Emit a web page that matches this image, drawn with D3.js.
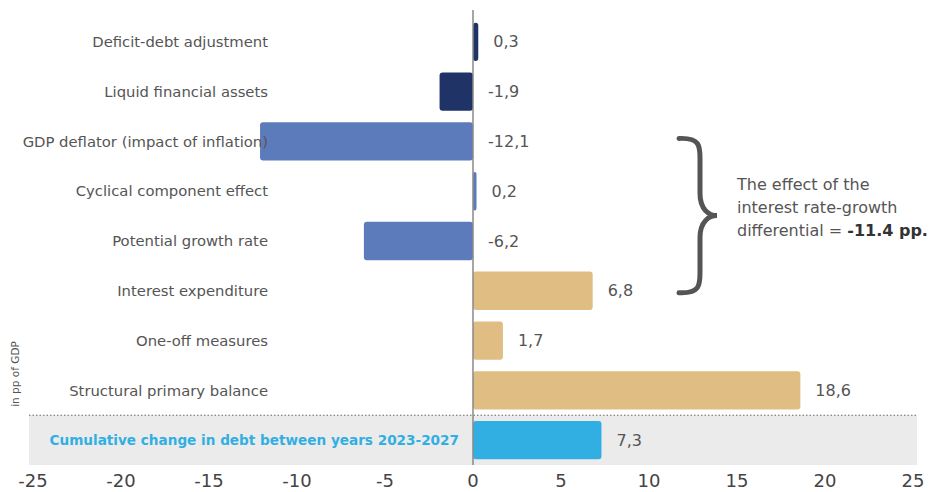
<!DOCTYPE html>
<html>
<head>
<meta charset="utf-8">
<script src="https://cdn.jsdelivr.net/npm/d3@7"></script>
<style>
  body { margin: 0; background: #fff; }
  svg { display: block; font-family: "DejaVu Sans", "Inter", sans-serif; }
</style>
</head>
<body>
<svg></svg>
<script>
// chart data
var categories = [
  "Deficit-debt adjustment",
  "Liquid financial assets",
  "GDP deflator (impact of inflation)",
  "Cyclical component effect",
  "Potential growth rate",
  "Interest expenditure",
  "One-off measures",
  "Structural primary balance",
  "Cumulative change in debt between years 2023-2027"
];
var values = [0.3, -1.9, -12.1, 0.2, -6.2, 6.8, 1.7, 18.6, 7.3];
var groups = ["sfa", "sfa", "growth", "growth", "growth", "fiscal", "fiscal", "fiscal", "total"];
var xTicks = [-25, -20, -15, -10, -5, 0, 5, 10, 15, 20, 25];
var noteLines = ["The effect of the", "interest rate-growth", "differential = "];
var noteBold = "-11.4 pp.";
var axisTitle = "in pp of GDP";

var svgWidth = 932, svgHeight = 492;
var svg = d3.select("svg")
  .attr("width", svgWidth)
  .attr("height", svgHeight);

var x = d3.scaleLinear().domain([-25, 25]).range([33, 913]);
var y = d3.scaleBand().domain(categories).range([17, 465])
  .paddingInner(0.23).paddingOuter(0.115);

var color = d3.scaleOrdinal()
  .domain(["sfa", "growth", "fiscal", "total"])
  .range(["#1f3366", "#5c7bbb", "#dfbd83", "#31afe3"]);

var fmt = function(v) { return String(v).replace(".", ","); };
var lastIdx = categories.length - 1;

// highlight row for the total
var hlTop = y(categories[lastIdx]) - y.step() * y.paddingInner() / 2;
svg.append("rect")
  .attr("x", 29).attr("y", hlTop)
  .attr("width", 888).attr("height", 465 - hlTop)
  .attr("fill", "#ebebeb");
svg.append("line")
  .attr("x1", 29).attr("x2", 917)
  .attr("y1", hlTop).attr("y2", hlTop)
  .attr("stroke", "#666").attr("stroke-width", 1)
  .attr("stroke-dasharray", "1.5,2");

// bars
svg.selectAll("rect.bar")
  .data(values)
  .enter()
  .append("rect")
  .attr("class", "bar")
  .attr("x", function(d) { return Math.min(x(0), x(d)); })
  .attr("y", function(d, i) { return y(categories[i]); })
  .attr("width", function(d) { return Math.abs(x(d) - x(0)); })
  .attr("height", y.bandwidth())
  .attr("rx", 3)
  .attr("fill", function(d, i) { return color(groups[i]); });

// zero line
svg.append("line")
  .attr("x1", x(0)).attr("x2", x(0))
  .attr("y1", 10).attr("y2", 465)
  .attr("stroke", "#888").attr("stroke-width", 1.5);

// category labels
svg.selectAll("text.cat")
  .data(categories)
  .enter()
  .append("text")
  .attr("class", "cat")
  .attr("x", function(d, i) { return i === lastIdx ? 459 : 268; })
  .attr("y", function(d) { return y(d) + y.bandwidth() / 2; })
  .attr("dy", "0.35em")
  .attr("text-anchor", "end")
  .attr("font-size", function(d, i) { return i === lastIdx ? 13.6 : 14.8; })
  .attr("font-weight", function(d, i) { return i === lastIdx ? 700 : 400; })
  .attr("fill", function(d, i) { return i === lastIdx ? "#31afe3" : "#555"; })
  .text(function(d) { return d; });

// value labels
svg.selectAll("text.val")
  .data(values)
  .enter()
  .append("text")
  .attr("class", "val")
  .attr("x", function(d) { return Math.max(x(0), x(d)) + 15; })
  .attr("y", function(d, i) { return y(categories[i]) + y.bandwidth() / 2; })
  .attr("dy", "0.35em")
  .attr("font-size", 16)
  .attr("fill", "#555")
  .text(fmt);

// x axis labels (no line)
svg.selectAll("text.tick")
  .data(xTicks)
  .enter()
  .append("text")
  .attr("class", "tick")
  .attr("x", function(d) { return x(d); })
  .attr("y", 487)
  .attr("text-anchor", "middle")
  .attr("font-size", 18)
  .attr("fill", "#444")
  .text(function(d) { return d; });

// axis title
svg.append("text")
  .attr("transform", "translate(19,374) rotate(-90)")
  .attr("text-anchor", "middle")
  .attr("font-size", 10.5)
  .attr("fill", "#555")
  .text(axisTitle);

// brace over the interest rate-growth rows
var bTop = y(categories[2]) + y.bandwidth() / 2 - 3;
var bBot = y(categories[5]) + y.bandwidth() / 2 + 2;
var bMid = (bTop + bBot) / 2;
var bx = 679, bm = 700, tip = 717;
var brace = d3.path();
brace.moveTo(bx, bTop);
brace.bezierCurveTo(bm, bTop - 1, bm, bTop + 8, bm, bTop + 20);
brace.lineTo(bm, bMid - 22);
brace.bezierCurveTo(bm, bMid - 6, tip - 8, bMid, tip, bMid);
brace.bezierCurveTo(tip - 8, bMid, bm, bMid + 6, bm, bMid + 22);
brace.lineTo(bm, bBot - 20);
brace.bezierCurveTo(bm, bBot - 8, bm, bBot + 1, bx, bBot);
svg.append("path")
  .attr("d", brace.toString())
  .attr("fill", "none")
  .attr("stroke", "#555")
  .attr("stroke-width", 5)
  .attr("stroke-linecap", "round");

// annotation
var note = svg.append("text")
  .attr("x", 737)
  .attr("y", 190)
  .attr("font-size", 16)
  .attr("fill", "#555");
noteLines.forEach(function(line, i) {
  note.append("tspan")
    .attr("x", 737)
    .attr("dy", i === 0 ? 0 : 23)
    .text(line);
  if (i === noteLines.length - 1) {
    note.append("tspan").attr("font-weight", 700).attr("fill", "#333").text(noteBold);
  }
});
</script>
</body>
</html>
